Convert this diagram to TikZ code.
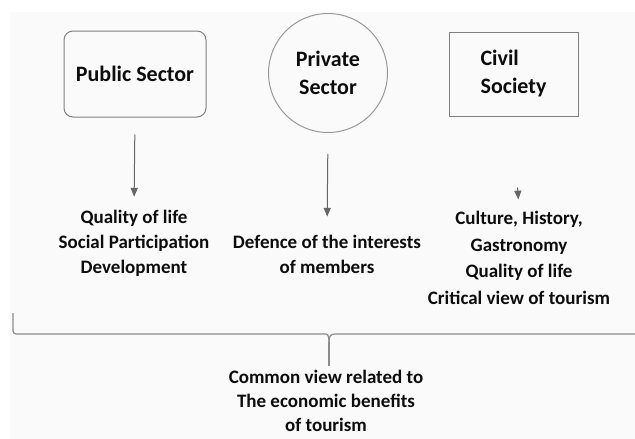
\documentclass[tikz,border=0pt]{standalone}
\usepackage{fontspec}
\setmainfont{Carlito}
\usetikzlibrary{arrows}
\definecolor{edgegray}{HTML}{808080}
\definecolor{arrowgray}{HTML}{666666}
\definecolor{bracegray}{HTML}{8C8C8C}
\definecolor{backgray}{HTML}{FAFAFA}
\tikzset{
every node/.style={align=center, inner sep=0pt, text=black!95},
sector/.style={draw=edgegray, line width=1pt, font=\fontsize{22}{28}\selectfont\bfseries},
topic/.style={font=\fontsize{19}{25}\selectfont\bfseries},
link/.style={draw=arrowgray, line width=1pt, -triangle 45}
}

\begin{document}
\begin{tikzpicture}[x=1pt, y=-1pt]
\useasboundingbox (0,0) rectangle (635,439);
\fill[backgray] (10,12) rectangle (635,439);

% the three sectors
\node[sector, rounded corners=9pt, minimum width=142pt, minimum height=86pt] (pub) at (135,74) {Public Sector};
\node[sector, circle, draw=edgegray!80, minimum size=119pt] (priv) at (328,73) {Private\\Sector};
\node[sector, align=left, minimum width=129pt, minimum height=84pt] (civ) at (513.5,74) {Civil\\Society};

% what each one stands for
\node[topic] (pubtxt) at (134,243) {Quality of life\\Social Participation\\Development};
\node[topic] (privtxt) at (327,254) {Defence of the interests\\of members};
\node[topic, font=\fontsize{19}{26.5}\selectfont\bfseries] (civtxt) at (519,258) {Culture, History,\\Gastronomy\\Quality of life\\Critical view of tourism};

\draw[link, shorten <=17pt, shorten >=13pt] (pub.south) -- (pubtxt.north);
\draw[link, shorten <=21pt, shorten >=18pt] (priv.south) -- (privtxt.north);
\draw[link, shorten <=71pt, shorten >=12pt] (civ.south) -- (civtxt.north);

% bracket down to the shared view
\node[topic, font=\fontsize{19}{24}\selectfont\bfseries] (common) at (326,401) {Common view related to\\The economic benefits\\of tourism};
\coordinate (bl) at (13,313);
\coordinate (br) at (635,334);
\coordinate (tip) at (329,342);
\draw[bracegray, line width=1.2pt, rounded corners=3pt] (bl) |- (323,334) .. controls (328,334) and (329,337) .. (tip);
\draw[bracegray, line width=1.2pt] (br) -- (335,334) .. controls (330,334) and (329,337) .. (tip);
\draw[bracegray, line width=1.2pt, shorten >=4pt] (tip) -- (common.north -| tip);
\end{tikzpicture}
\end{document}
